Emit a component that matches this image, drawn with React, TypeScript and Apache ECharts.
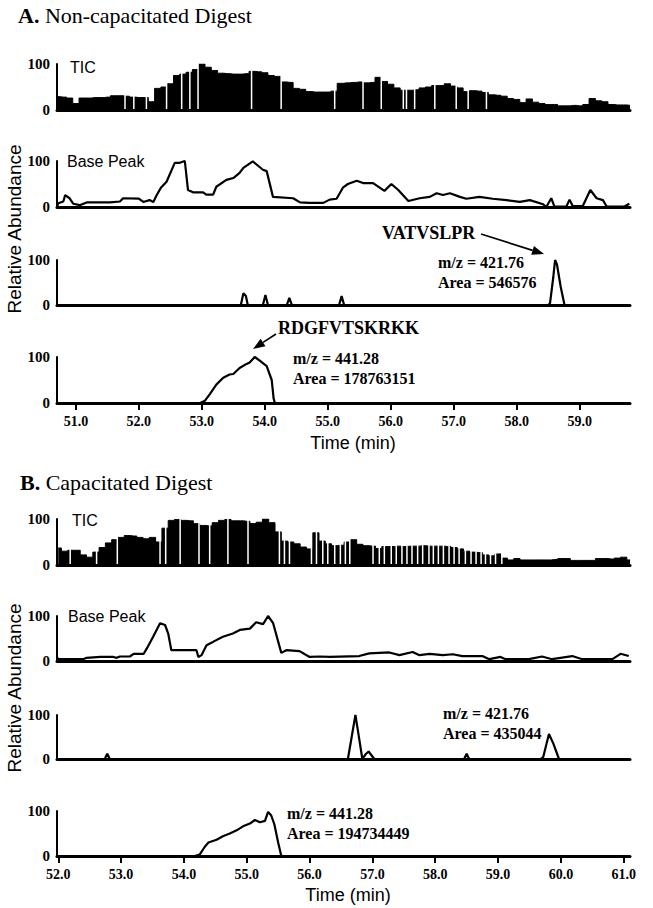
import React, { useEffect, useRef } from "react";
import * as echarts from "echarts";

// ---------------- DATA ----------------
// Panel A (non-capacitated), time in min, relative abundance in %
const TIC_A: [number, number][] = [
  [50.7, 29], [50.8, 28], [50.9, 26], [51.0, 14], [51.1, 26], [51.2, 26], [51.3, 27], [51.4, 27], [51.5, 28], [51.6, 31],
  [51.7, 31], [51.8, 30], [51.9, 28], [52.0, 27], [52.1, 27], [52.2, 18], [52.3, 47], [52.4, 50], [52.5, 57], [52.6, 75],
  [52.7, 78], [52.8, 82], [52.9, 88], [53.0, 100], [53.1, 93], [53.2, 86], [53.3, 80], [53.4, 79], [53.5, 78], [53.6, 78],
  [53.7, 79], [53.8, 84], [53.9, 83], [54.0, 81], [54.1, 75], [54.2, 73], [54.3, 61], [54.4, 60], [54.5, 47], [54.6, 45],
  [54.7, 40], [54.8, 39], [54.9, 39], [55.0, 39], [55.1, 41], [55.2, 58], [55.3, 59], [55.4, 60], [55.5, 61], [55.6, 59],
  [55.7, 60], [55.8, 71], [55.9, 62], [56.0, 56], [56.1, 48], [56.2, 43], [56.3, 43], [56.4, 44], [56.5, 48], [56.6, 50],
  [56.7, 53], [56.8, 53], [56.9, 57], [57.0, 52], [57.1, 48], [57.2, 40], [57.3, 42], [57.4, 41], [57.5, 38], [57.6, 33],
  [57.7, 32], [57.8, 30], [57.9, 25], [58.0, 23], [58.1, 16], [58.2, 24], [58.3, 17], [58.4, 14], [58.5, 12], [58.6, 12],
  [58.7, 9], [58.8, 9], [58.9, 10], [59.0, 9], [59.1, 12], [59.2, 25], [59.3, 20], [59.4, 18], [59.5, 12], [59.6, 11],
  [59.7, 11], [59.8, 10],
];
const TIC_A_GAPS: number[] = [
  51.78, 51.92, 52.12, 52.44, 52.68, 52.81, 52.94, 53.79, 54.26, 55.11, 55.56, 55.85, 56.2, 56.25, 56.38, 56.7, 57.04,
  57.23, 57.52,
];
const BP_A: [number, number][] = [
  [50.7, 0], [50.72, 8], [50.8, 12], [50.83, 26], [50.9, 19], [50.96, 7], [51.06, 4], [51.17, 10], [51.54, 10], [51.7, 12],
  [51.75, 19], [52.0, 18], [52.07, 11], [52.17, 15], [52.23, 11], [52.28, 25], [52.35, 42], [52.44, 55], [52.57, 96],
  [52.65, 96], [52.73, 100], [52.78, 37], [52.86, 32], [53.02, 32], [53.07, 27], [53.18, 27], [53.23, 44], [53.39, 59],
  [53.5, 63], [53.6, 74], [53.66, 85], [53.81, 99], [53.97, 81], [54.03, 78], [54.13, 22], [54.45, 19], [54.56, 10],
  [54.71, 9], [54.93, 9], [55.03, 16], [55.14, 18], [55.24, 42], [55.32, 50], [55.46, 57], [55.56, 52], [55.72, 52],
  [55.9, 35], [56.01, 50], [56.12, 37], [56.28, 13], [56.46, 19], [56.62, 22], [56.73, 30], [56.83, 26], [56.94, 30],
  [57.1, 22], [57.2, 18], [57.41, 22], [57.62, 18], [57.84, 15], [58.05, 11], [58.21, 15], [58.42, 6], [58.47, 0],
  [58.55, 19], [58.6, 1], [58.79, 1], [58.84, 16], [58.89, 2], [59.05, 2], [59.17, 37], [59.27, 19], [59.37, 15],
  [59.43, 1], [59.71, 1], [59.79, 7],
];
const XIC421_A: [number, number][] = [
  [50.7, 0], [53.62, 0], [53.66, 26], [53.7, 20], [53.73, 0], [53.97, 0], [54.01, 22], [54.05, 0], [54.35, 0],
  [54.39, 16], [54.43, 0], [55.18, 0], [55.22, 20], [55.26, 0], [58.5, 0], [58.53, 4], [58.58, 60], [58.61, 100],
  [58.64, 90], [58.7, 40], [58.76, 0], [59.8, 0],
];
const XIC441_A: [number, number][] = [
  [50.7, 0], [52.97, 0], [53.05, 5], [53.13, 20], [53.23, 40], [53.34, 55], [53.44, 62], [53.5, 63], [53.6, 76],
  [53.71, 85], [53.76, 88], [53.84, 100], [53.92, 92], [54.03, 80], [54.11, 50], [54.14, 10], [54.16, 0], [59.8, 0],
];

// Panel B (capacitated)
const TIC_B: [number, number][] = [
  [52.0, 37], [52.1, 30], [52.2, 32], [52.3, 32], [52.4, 22], [52.5, 17], [52.6, 28], [52.7, 38], [52.8, 48], [52.9, 55],
  [53.0, 60], [53.1, 64], [53.2, 63], [53.3, 60], [53.4, 57], [53.5, 60], [53.6, 50], [53.7, 80], [53.8, 97], [53.9, 99],
  [54.0, 97], [54.1, 96], [54.2, 90], [54.3, 86], [54.4, 85], [54.5, 92], [54.6, 97], [54.7, 99], [54.8, 96], [54.9, 96],
  [55.0, 95], [55.1, 90], [55.2, 93], [55.3, 100], [55.4, 92], [55.5, 72], [55.6, 52], [55.7, 50], [55.8, 46], [55.9, 39],
  [56.0, 35], [56.1, 70], [56.2, 52], [56.3, 46], [56.4, 42], [56.5, 43], [56.6, 50], [56.7, 55], [56.8, 45], [56.9, 42],
  [57.0, 41], [57.1, 36], [57.2, 40], [57.3, 40], [57.4, 41], [57.5, 40], [57.6, 41], [57.7, 41], [57.8, 42], [57.9, 41],
  [58.0, 41], [58.1, 41], [58.2, 40], [58.3, 38], [58.4, 35], [58.5, 30], [58.6, 28], [58.7, 27], [58.8, 22], [58.9, 20],
  [59.0, 24], [59.1, 15], [59.2, 11], [59.3, 14], [59.4, 11], [59.5, 11], [59.6, 11], [59.7, 11], [59.8, 11], [59.9, 12],
  [60.0, 14], [60.1, 14], [60.2, 10], [60.3, 10], [60.4, 10], [60.5, 10], [60.6, 14], [60.7, 14], [60.8, 13], [60.9, 15],
  [61.0, 17], [61.1, 11],
];
const TIC_B_GAPS: number[] = [
  52.19, 52.61, 52.94, 53.62, 53.71, 53.94, 54.24, 54.41, 54.7, 55.02, 55.52, 55.6, 55.68, 56.03, 56.11, 56.21, 56.29,
  56.4, 56.49, 56.57, 56.64, 57.01, 57.11, 57.19, 57.3, 57.38, 57.47, 57.55, 57.63, 57.72, 57.8, 57.9, 57.97, 58.05,
  58.13, 58.22, 58.3, 58.38, 58.48, 58.57, 58.65, 58.73, 58.8, 58.88, 58.96, 59.06,
];
const BP_B: [number, number][] = [
  [51.98, 9], [52.0, 4], [52.4, 4], [52.45, 7], [52.67, 9], [52.88, 9], [52.93, 7], [52.98, 10], [53.14, 10], [53.2, 16],
  [53.36, 16], [53.41, 28], [53.51, 54], [53.62, 84], [53.7, 80], [53.75, 61], [53.8, 24], [54.2, 24], [54.23, 9],
  [54.28, 13], [54.36, 35], [54.47, 43], [54.62, 54], [54.78, 61], [54.89, 69], [55.05, 72], [55.15, 86], [55.26, 82],
  [55.34, 100], [55.42, 84], [55.55, 18], [55.63, 24], [55.84, 22], [56.0, 9], [56.16, 10], [56.32, 9], [56.79, 11],
  [56.95, 17], [57.27, 19], [57.43, 13], [57.64, 20], [57.75, 13], [57.91, 16], [58.12, 13], [58.28, 15], [58.43, 11],
  [58.75, 11], [58.86, 4], [59.04, 9], [59.12, 4], [59.49, 4], [59.7, 10], [59.86, 4], [60.18, 11], [60.34, 4],
  [60.82, 4], [60.95, 16], [61.08, 11],
];
const XIC421_B: [number, number][] = [
  [51.98, 0], [52.74, 0], [52.78, 12], [52.82, 0], [56.61, 0], [56.67, 50], [56.73, 100], [56.78, 55], [56.84, 0],
  [56.9, 12], [56.94, 17], [57.03, 0], [58.46, 0], [58.5, 12], [58.54, 0], [59.68, 0], [59.72, 5], [59.81, 57],
  [59.88, 35], [59.97, 0], [61.1, 0],
];
const XIC441_B: [number, number][] = [
  [51.98, 0], [54.17, 0], [54.25, 3], [54.33, 20], [54.39, 30], [54.52, 36], [54.62, 44], [54.73, 50], [54.84, 57],
  [54.94, 66], [55.05, 72], [55.13, 80], [55.21, 75], [55.29, 78], [55.34, 98], [55.39, 90], [55.44, 70], [55.5, 30],
  [55.55, 0], [61.1, 0],
];

const X_TICKS_A = [51, 52, 53, 54, 55, 56, 57, 58, 59];
const X_TICKS_B = [52, 53, 54, 55, 56, 57, 58, 59, 60, 61];
const Y_TICKS = [0, 100];

// ---------------- STYLE ----------------
const SERIF = "'Liberation Serif', 'Times New Roman', serif";
const SANS = "'Liberation Sans', Arial, sans-serif";

type Panel = {
  top: number;
  height: number;
  min: number;
  max: number;
  ticks: number[] | null;
};

const PANELS: Panel[] = [
  { top: 64, height: 46, min: 50.7, max: 59.8, ticks: null },
  { top: 161, height: 46, min: 50.7, max: 59.8, ticks: null },
  { top: 260, height: 45, min: 50.7, max: 59.8, ticks: null },
  { top: 357, height: 46, min: 50.7, max: 59.8, ticks: X_TICKS_A },
  { top: 519, height: 46, min: 51.98, max: 61.1, ticks: null },
  { top: 616, height: 45, min: 51.98, max: 61.1, ticks: null },
  { top: 715, height: 44, min: 51.98, max: 61.1, ticks: null },
  { top: 811, height: 45, min: 51.98, max: 61.1, ticks: X_TICKS_B },
];

function txt(text: string, x: number, y: number, size: number, family: string, weight = "normal", align = "left", extra: any = {}) {
  return {
    type: "text",
    x,
    y,
    z: 100,
    ...extra,
    style: {
      text,
      fontSize: size,
      fontFamily: family,
      fontWeight: weight,
      fill: "#000",
      align,
      verticalAlign: "middle",
      ...(extra.style || {}),
    },
  };
}

function arrow(x1: number, y1: number, x2: number, y2: number) {
  const dx = x2 - x1;
  const dy = y2 - y1;
  const L = Math.hypot(dx, dy);
  const ux = dx / L;
  const uy = dy / L;
  const hl = 12;
  const hw = 4.5;
  const bx = x2 - ux * hl;
  const by = y2 - uy * hl;
  return [
    { type: "line", z: 100, shape: { x1, y1, x2: bx, y2: by }, style: { stroke: "#000", lineWidth: 1.6 } },
    {
      type: "polygon",
      z: 100,
      shape: { points: [[x2, y2], [bx - uy * hw, by + ux * hw], [bx + uy * hw, by - ux * hw]] },
      style: { fill: "#000" },
    },
  ];
}

export default function App() {
  const ref = useRef<HTMLDivElement>(null);

  useEffect(() => {
    if (!ref.current) return;
    const chart = echarts.init(ref.current, undefined, { renderer: "svg" });

    const grid = PANELS.map((p) => ({ left: 57, right: 23, top: p.top, height: p.height, containLabel: false }));

    const xAxis = PANELS.map((p, i) => ({
      gridIndex: i,
      type: "value",
      min: p.min,
      max: p.max,
      z: 10,
      axisLine: { show: true, onZero: false, lineStyle: { color: "#000", width: 3 } },
      axisTick: {
        show: !!p.ticks,
        length: 7,
        customValues: p.ticks || [],
        lineStyle: { color: "#000", width: 2 },
      },
      axisLabel: {
        show: !!p.ticks,
        customValues: p.ticks || [],
        formatter: (v: number) => v.toFixed(1),
        fontFamily: SERIF,
        fontWeight: "bold",
        fontSize: 14,
        color: "#000",
        margin: 11,
      },
      splitLine: { show: false },
    }));

    const yAxis = PANELS.map((p, i) => ({
      gridIndex: i,
      type: "value",
      min: 0,
      max: 100,
      z: 10,
      axisLine: { show: true, lineStyle: { color: "#000", width: 2 } },
      axisTick: { show: false },
      splitLine: { show: false },
      axisLabel: {
        customValues: Y_TICKS,
        fontFamily: SERIF,
        fontWeight: "bold",
        fontSize: 15,
        color: "#000",
        margin: 7,
      },
    }));

    const tic = (data: [number, number][], idx: number) => ({
      type: "line",
      xAxisIndex: idx,
      yAxisIndex: idx,
      data,
      step: "middle",
      symbol: "none",
      z: 2,
      lineStyle: { color: "#000", width: 1 },
      areaStyle: { color: "#000", opacity: 1 },
    });
    const gaps = (times: number[], idx: number) => ({
      type: "bar",
      xAxisIndex: idx,
      yAxisIndex: idx,
      data: times.map((t) => [t, 100]),
      barWidth: 1.5,
      z: 3,
      itemStyle: { color: "#fff" },
    });
    const trace = (data: [number, number][], idx: number) => ({
      type: "line",
      xAxisIndex: idx,
      yAxisIndex: idx,
      data,
      symbol: "none",
      z: 2,
      lineStyle: { color: "#000", width: 2.2 },
    });

    const series = [
      tic(TIC_A, 0),
      gaps(TIC_A_GAPS, 0),
      trace(BP_A, 1),
      trace(XIC421_A, 2),
      trace(XIC441_A, 3),
      tic(TIC_B, 4),
      gaps(TIC_B_GAPS, 4),
      trace(BP_B, 5),
      trace(XIC421_B, 6),
      trace(XIC441_B, 7),
    ];

    const titleRich = { b: { fontWeight: "bold", fontSize: 22, fontFamily: SERIF } };

    const graphic: any[] = [
      {
        type: "text",
        x: 18,
        y: 15,
        z: 100,
        style: {
          text: "{b|A.} Non-capacitated Digest",
          rich: titleRich,
          fontSize: 22,
          fontFamily: SERIF,
          fill: "#000",
          verticalAlign: "middle",
        },
      },
      {
        type: "text",
        x: 20,
        y: 482,
        z: 100,
        style: {
          text: "{b|B.} Capacitated Digest",
          rich: titleRich,
          fontSize: 22,
          fontFamily: SERIF,
          fill: "#000",
          verticalAlign: "middle",
        },
      },
      txt("TIC", 70, 67, 16, SANS),
      txt("Base Peak", 67, 161, 16, SANS),
      txt("TIC", 72, 520, 16, SANS),
      txt("Base Peak", 68, 616, 16, SANS),
      txt("Relative Abundance", 14, 229, 19, SANS, "normal", "center", { rotation: Math.PI / 2 }),
      txt("Relative Abundance", 14, 688, 19, SANS, "normal", "center", { rotation: Math.PI / 2 }),
      txt("Time (min)", 353, 443, 18, SANS, "normal", "center"),
      txt("Time (min)", 348, 895, 18, SANS, "normal", "center"),
      txt("VATVSLPR", 382, 233, 18, SERIF, "bold"),
      ...arrow(481, 234, 544, 254),
      txt("m/z = 421.76", 438, 262, 16, SERIF, "bold"),
      txt("Area = 546576", 438, 282, 16, SERIF, "bold"),
      txt("RDGFVTSKRKK", 278, 328, 18, SERIF, "bold"),
      ...arrow(276, 334, 253, 349),
      txt("m/z = 441.28", 293, 358, 16, SERIF, "bold"),
      txt("Area = 178763151", 293, 378, 16, SERIF, "bold"),
      txt("m/z = 421.76", 443, 713, 16, SERIF, "bold"),
      txt("Area = 435044", 443, 733, 16, SERIF, "bold"),
      txt("m/z = 441.28", 287, 813, 16, SERIF, "bold"),
      txt("Area = 194734449", 287, 833, 16, SERIF, "bold"),
    ];

    chart.setOption({
      animation: false,
      backgroundColor: "#fff",
      grid,
      xAxis,
      yAxis,
      series,
      graphic,
    });

    return () => chart.dispose();
  }, []);

  return (
    <div
      ref={ref}
      style={{ position: "absolute", left: 0, top: 0, width: 653, height: 908, background: "#fff" }}
    />
  );
}
